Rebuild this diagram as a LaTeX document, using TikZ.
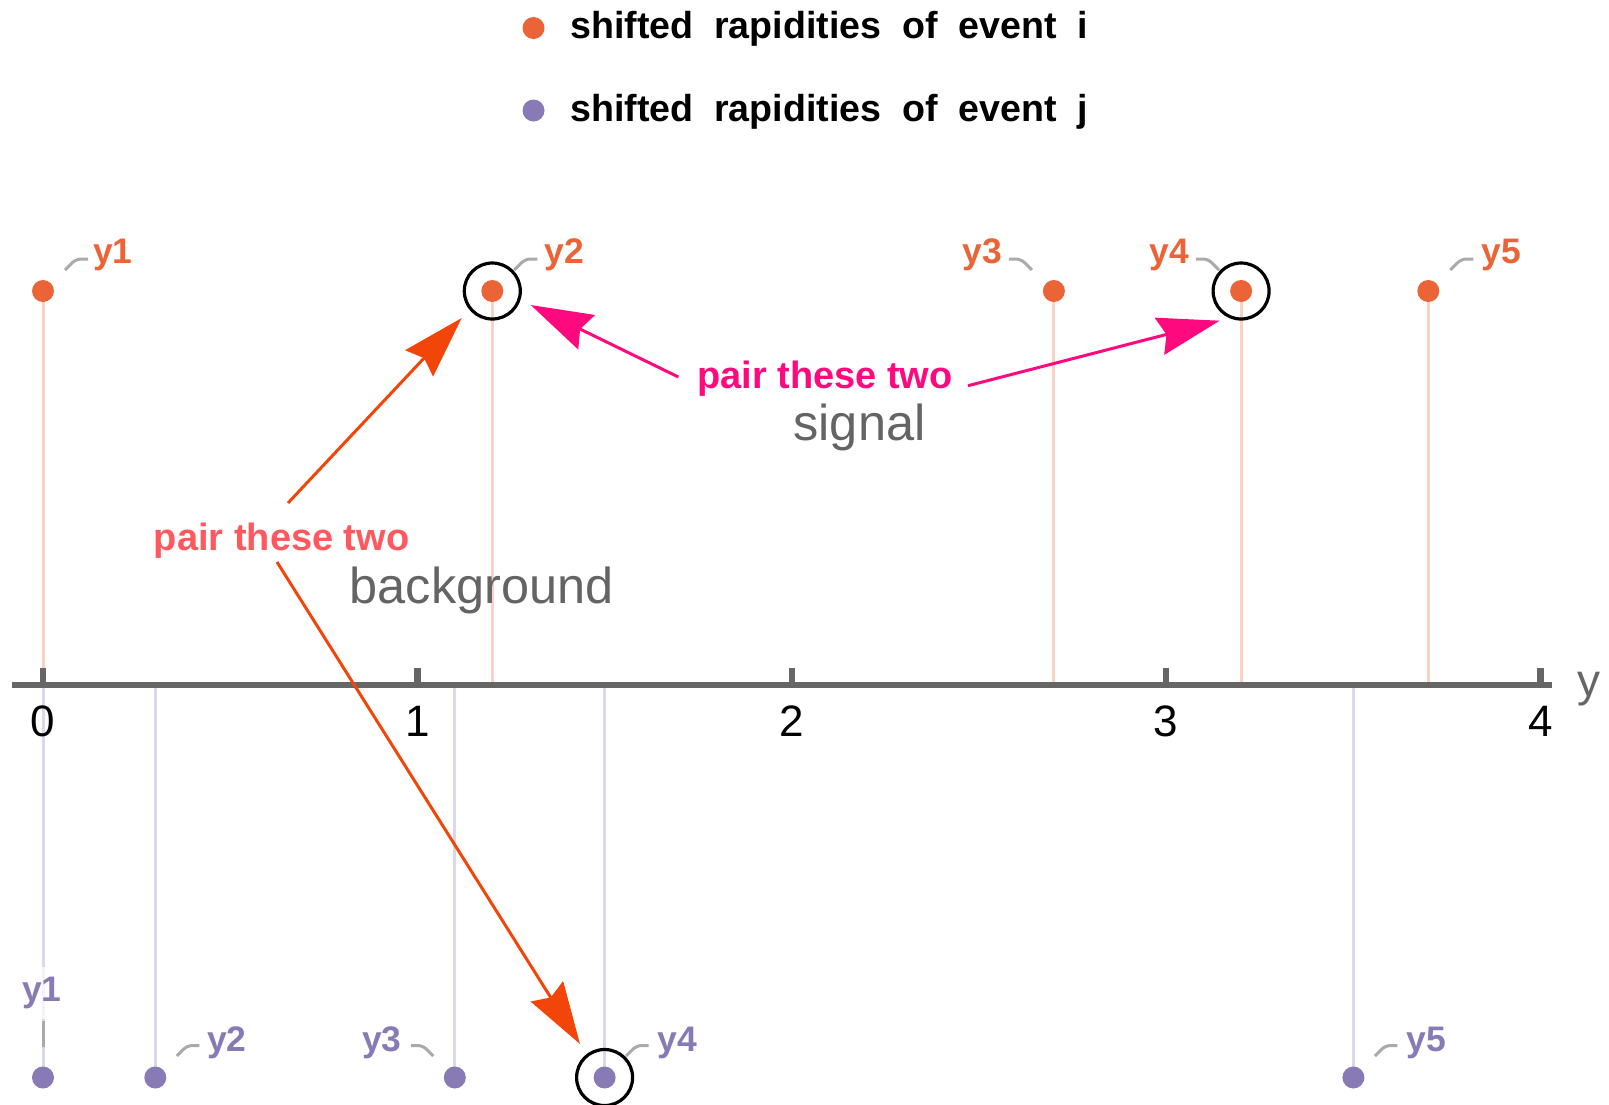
\documentclass[tikz,border=0pt]{standalone}
\usepackage{fontspec}
\setmainfont{Liberation Sans}
\usetikzlibrary{arrows.meta}
\definecolor{colI}{HTML}{EB6437}
\definecolor{colJ}{HTML}{887AB5}
\definecolor{stemIcol}{HTML}{FAD2C3}
\definecolor{stemJcol}{HTML}{DCD8EC}
\definecolor{axisgray}{HTML}{666666}
\definecolor{leadgray}{HTML}{AAAAAA}
\definecolor{magentaA}{HTML}{FF0A7E}
\definecolor{orangeA}{HTML}{F2450A}
\definecolor{salmonT}{HTML}{FF585E}
\definecolor{textgray}{HTML}{646464}
\begin{document}
\begin{tikzpicture}[x=1pt,y=-1pt,
  ptI/.style={circle,fill=colI,inner sep=0pt,minimum size=22pt},
  ptJ/.style={circle,fill=colJ,inner sep=0pt,minimum size=22pt},
  ring/.style={circle,draw=black,line width=3.2pt,inner sep=0pt,minimum size=56pt},
  stemI/.style={draw=stemIcol,line width=3pt},
  stemJ/.style={draw=stemJcol,line width=3pt},
  leader/.style={draw=leadgray,line width=3pt,rounded corners=5pt},
  labI/.style={text=colI,font=\bfseries\fontsize{35.5}{40}\selectfont,inner sep=0pt,anchor=base},
  labJ/.style={text=colJ,font=\bfseries\fontsize{35.5}{40}\selectfont,inner sep=0pt,anchor=base},
  ticklab/.style={font=\fontsize{44}{50}\selectfont,inner sep=0pt,anchor=base},
  legtext/.style={font=\bfseries\fontsize{37.6}{44}\selectfont,inner sep=0pt,anchor=base west},
  pairtext/.style={font=\bfseries\fontsize{38}{44}\selectfont,inner sep=0pt,anchor=base},
  graytext/.style={text=textgray,font=\fontsize{50.5}{58}\selectfont,inner sep=0pt,anchor=base},
  bigarrow/.style={line width=3pt,-{Stealth[length=62pt,width=38pt,inset=7pt]}}
]
\useasboundingbox (0,0) rectangle (1609,1104);

% legend
\node[ptI] (legI) at (533.5,28) {};
\node[legtext] (legIt) at (570,38.5) {shifted\ \ rapidities\ \ of\ \ event\ \ i};
\node[ptJ] (legJ) at (533.5,110.5) {};
\node[legtext] (legJt) at (570,121.5) {shifted\ \ rapidities\ \ of\ \ event\ \ j};

% stems
\coordinate (i1p) at (43,291);
\coordinate (i2p) at (492.3,291);
\coordinate (i3p) at (1053.9,291);
\coordinate (i4p) at (1241.1,291);
\coordinate (i5p) at (1428.3,291);
\coordinate (j1p) at (43,1077.5);
\coordinate (j2p) at (155.3,1077.5);
\coordinate (j3p) at (454.8,1077.5);
\coordinate (j4p) at (604.6,1077.5);
\coordinate (j5p) at (1353.4,1077.5);
\foreach \n in {i1p,i2p,i3p,i4p,i5p}{\draw[stemI] (\n) -- (\n |- 0,682);}
\foreach \n in {j1p,j2p,j3p,j4p,j5p}{\draw[stemJ] (\n) -- (\n |- 0,688);}

% axis
\coordinate (axL) at (12,685);
\coordinate (axR) at (1552,685);
\draw[axisgray,line width=6.5pt] (axL) -- (axR);
\foreach \k in {0,1,2,3,4}{
  \draw[axisgray,line width=6.5pt] ({43+374.4*\k},685) -- ({43+374.4*\k},667.5);
  \node[ticklab] (t\k) at ({43+374.4*\k},736) {\k};
}
\node[text=axisgray,font=\fontsize{46}{52}\selectfont,inner sep=0pt,anchor=base] (ylab) at (1589,696.5) {y};

% points
\foreach \n in {i1,i2,i3,i4,i5}{\node[ptI] (\n) at (\n p) {};}
\foreach \n in {j1,j2,j3,j4,j5}{\node[ptJ] (\n) at (\n p) {};}
\node[ring] (c1) at (i2) {};
\node[ring] (c2) at (i4) {};
\node[ring] (c3) at (j4) {};

% leaders and labels, event i
\draw[leader] (i1.center) ++(22,-21) -- ++(11,-11) -- ++(12,0);
\draw[leader] (i2.center) ++(22,-21) -- ++(11,-11) -- ++(12,0);
\draw[leader] (i5.center) ++(22,-21) -- ++(11,-11) -- ++(12,0);
\draw[leader] (i3.center) ++(-22,-21) -- ++(-11,-11) -- ++(-12,0);
\draw[leader] (i4.center) ++(-22,-21) -- ++(-11,-11) -- ++(-12,0);
\node[labI] (li1) at (113,263) {y1};
\node[labI] (li2) at (564,263) {y2};
\node[labI] (li3) at (982,263) {y3};
\node[labI] (li4) at (1169,263) {y4};
\node[labI] (li5) at (1501,263) {y5};

% leaders and labels, event j
\node[labJ,fill=white,fill opacity=0.7,text opacity=1,inner xsep=3pt,inner ysep=10pt] (lj1) at (42,1001.5) {y1};
\draw[leader] (j1.center) ++(0,-30.5) -- ++(0,-26);
\draw[leader] (j2.center) ++(21.5,-21.5) -- ++(10.5,-10.5) -- ++(12,0);
\draw[leader] (j4.center) ++(21.5,-21.5) -- ++(10.5,-10.5) -- ++(12,0);
\draw[leader] (j5.center) ++(21.5,-21.5) -- ++(10.5,-10.5) -- ++(12,0);
\draw[leader] (j3.center) ++(-21.5,-21.5) -- ++(-10.5,-10.5) -- ++(-12,0);
\node[labJ] (lj2) at (227,1051) {y2};
\node[labJ] (lj3) at (382,1051) {y3};
\node[labJ] (lj4) at (677,1051) {y4};
\node[labJ] (lj5) at (1426,1051) {y5};

% texts
\node[pairtext,text=magentaA] (pm) at (825,388) {pair these two};
\node[graytext] (sig) at (859.5,440) {signal};
\node[pairtext,text=salmonT] (ps) at (281.7,550) {pair these two};
\node[graytext] (bkg) at (481.7,603) {background};

% arrows
\coordinate (pmL) at (678.4,377);
\coordinate (pmR) at (968,385.7);
\coordinate (tipM1) at (530.7,305);
\coordinate (tipM2) at (1219.7,320.7);
\draw[bigarrow,magentaA] (pmL) -- (tipM1);
\draw[bigarrow,magentaA] (pmR) -- (tipM2);
\coordinate (psU) at (288,503);
\coordinate (psD) at (277,562);
\coordinate (tipO1) at (461.7,318);
\coordinate (tipO2) at (580,1044);
\draw[bigarrow,orangeA] (psU) -- (tipO1);
\draw[bigarrow,orangeA] (psD) -- (tipO2);
\end{tikzpicture}
\end{document}
